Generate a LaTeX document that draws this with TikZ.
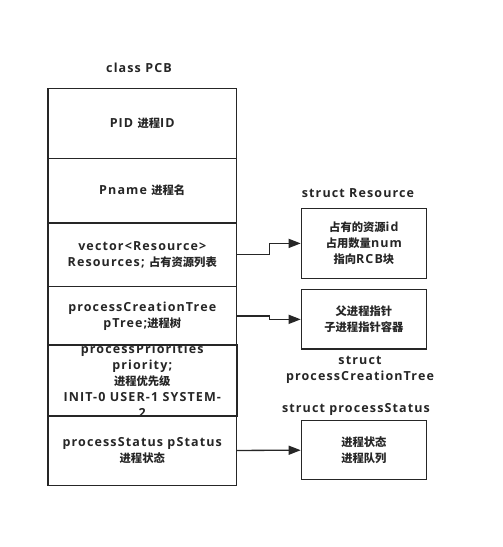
\documentclass[tikz,border=0pt]{standalone}
\usepackage{fontspec}
\setmainfont{Open Sans}[LetterSpace=9]
\newfontfamily\cjkfont{Noto Sans CJK SC}
\newcommand\zh[1]{{\cjkfont\fontsize{11.3}{16}\selectfont\bfseries #1}}
\usetikzlibrary{arrows.meta}
\begin{document}
\begin{tikzpicture}[x=1pt,y=-1pt,
  every node/.style={font=\fontsize{12.5}{16}\selectfont\bfseries, text=black!85, align=center},
  cell/.style={draw=black!85, line width=1.4pt, fill=white, minimum width=188.5pt, inner sep=0pt},
  sbox/.style={draw=black!85, line width=1.4pt, fill=white, minimum width=125pt, inner sep=0pt},
  title/.style={inner sep=0pt},
  conn/.style={draw=black!85, line width=1.3pt, -{Triangle[length=12pt,width=9pt]}}]
\useasboundingbox (0,0) rectangle (503,547);
\fill[white] (0,0) rectangle (503,547);
% main class cells
\node[cell, minimum height=70pt, anchor=north west] (c1) at (47.3,87.5) {PID \zh{进程}ID};
\node[cell, minimum height=64.6pt, anchor=north west] (c2) at (47.3,157.5) {Pname \zh{进程名}};
\node[cell, minimum height=63.7pt, anchor=north west] (c3) at (47.3,222.1) {vector<Resource>\\Resources; \zh{占有资源列表}};
\node[cell, minimum height=59.2pt, anchor=north west] (c4) at (47.3,285.8) {processCreationTree\\pTree;\zh{进程树}};
\node[cell, minimum height=70pt, anchor=north west] (c5) at (47.3,345) {};
\node[cell, minimum height=69.5pt, anchor=north west] (c6) at (47.3,415) {processStatus pStatus\\\zh{进程状态}};
\begin{scope}
  \clip (c5.north west) rectangle (c5.south east);
  \node (p5) at (c5.center) {processPriorities\\priority;\\\zh{进程优先级}\\INIT-0 USER-1 SYSTEM-\\2};
\end{scope}
\draw[draw=black!85, line width=1.4pt] (c5.north west) rectangle (c5.south east);
\node[title] (tpcb) at (139,68) {class PCB};
% struct boxes
\node[sbox, minimum height=70pt, anchor=north west] (rbox) at (300.7,207.7) {\zh{占有的资源}id\\\zh{占用数量}num\\\zh{指向}RCB\zh{块}};
\node[sbox, minimum height=59.3pt, anchor=north west] (tbox) at (300.7,289) {\zh{父进程指针}\\\zh{子进程指针容器}};
\node[sbox, minimum height=59pt, anchor=north west] (sbox1) at (300.7,420) {\zh{进程状态}\\\zh{进程队列}};
\node[title] (tres) at (358,193) {struct Resource};
\node[title] (ttree) at (360,369.5) {struct\\processCreationTree};
\node[title] (tstat) at (356,409) {struct processStatus};
% connectors
\draw[conn] (c3.east) -- ++(32,0) |- (rbox.west);
\draw[conn] (c4.east) -- ++(32,0) |- (tbox.west);
\draw[conn] (c6.east) -- (sbox1.west);
\end{tikzpicture}
\end{document}
